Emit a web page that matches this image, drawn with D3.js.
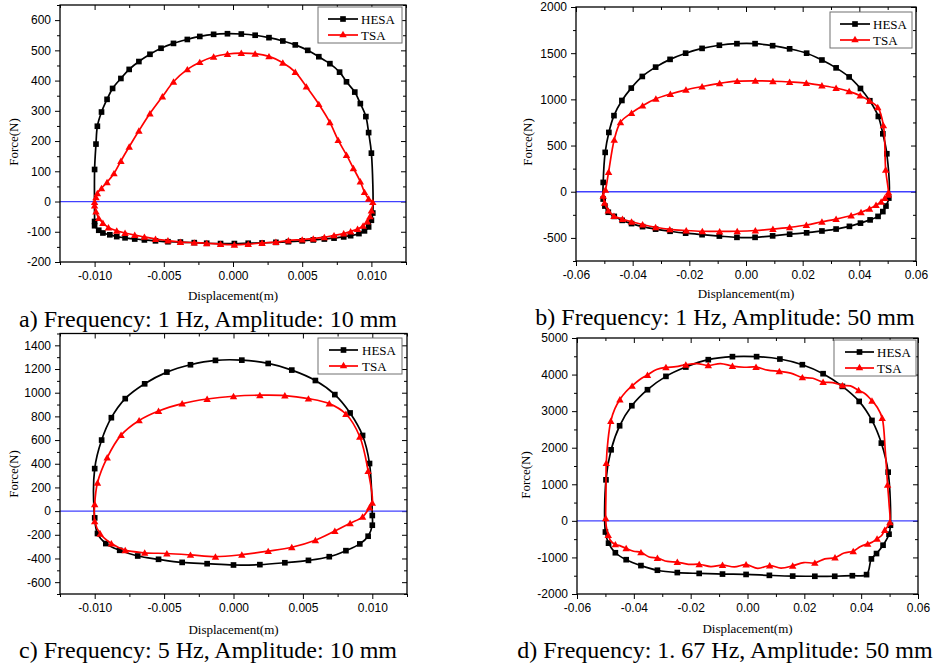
<!DOCTYPE html>
<html>
<head>
<meta charset="utf-8">
<script src="https://cdn.jsdelivr.net/npm/d3@7/dist/d3.min.js"></script>
<style>
  html, body { margin: 0; padding: 0; background: #fff; }
  svg { display: block; }
</style>
</head>
<body>
<div id="chart"></div>
<script>
// ---------- measured hysteresis loops: [displacement (m), force (N)] ----------
// a) 1 Hz, 10 mm
const hesaA = [
  [-0.0100,106],[-0.0099,190],[-0.0098,249],[-0.0095,296],[-0.0091,338],[-0.0087,374],[-0.0081,407],[-0.0075,437],
  [-0.0068,463],[-0.0060,487],[-0.0052,507],[-0.0043,523],[-0.0033,536],[-0.0024,546],[-0.0014,553],[-0.0004,555],
  [0.0006,554],[0.0016,550],[0.0026,542],[0.0036,531],[0.0045,518],[0.0054,500],[0.0062,479],[0.0070,456],
  [0.0077,428],[0.0082,396],[0.0088,362],[0.0092,324],[0.0096,281],[0.0098,228],[0.0100,160],
  [0.0101,-38],[0.0100,-62],[0.0098,-84],[0.0095,-97],[0.0091,-106],[0.0085,-113],[0.0080,-117],[0.0073,-121],
  [0.0066,-124],[0.0058,-127],[0.0050,-130],[0.0040,-133],[0.0031,-135],[0.0021,-137],[0.0011,-138],[0.0001,-139],
  [-0.0009,-139],[-0.0019,-138],[-0.0028,-136],[-0.0038,-134],[-0.0047,-133],[-0.0056,-130],[-0.0064,-127],
  [-0.0071,-124],[-0.0078,-120],[-0.0084,-116],[-0.0089,-110],[-0.0094,-104],[-0.0097,-95],[-0.0100,-80],[-0.0100,-66]
];
const tsaA = [
  [-0.0100,-2],[-0.0099,14],[-0.0098,27],[-0.0095,44],[-0.0091,64],[-0.0086,93],[-0.0081,134],[-0.0075,181],
  [-0.0068,234],[-0.0060,291],[-0.0051,347],[-0.0043,396],[-0.0033,437],[-0.0024,461],[-0.0014,479],[-0.0004,488],
  [0.0006,491],[0.0016,489],[0.0026,480],[0.0036,459],[0.0045,428],[0.0053,380],[0.0062,322],[0.0070,262],
  [0.0076,203],[0.0082,154],[0.0087,110],[0.0092,66],[0.0095,31],[0.0098,9],[0.0101,-2],
  [0.0100,-30],[0.0099,-49],[0.0097,-66],[0.0094,-80],[0.0090,-91],[0.0085,-99],[0.0080,-106],[0.0073,-112],
  [0.0066,-118],[0.0058,-123],[0.0050,-126],[0.0040,-129],[0.0031,-134],[0.0021,-137],[0.0011,-141],[0.0001,-143],
  [-0.0009,-141],[-0.0019,-138],[-0.0028,-136],[-0.0038,-134],[-0.0047,-129],[-0.0056,-124],[-0.0064,-117],
  [-0.0071,-111],[-0.0078,-104],[-0.0084,-97],[-0.0090,-86],[-0.0094,-71],[-0.0097,-55],[-0.0099,-33],[-0.0100,-13]
];

// b) 1 Hz, 50 mm
const hesaB = [
  [-0.0504,101],[-0.0497,426],[-0.0484,642],[-0.0466,824],[-0.0438,988],[-0.0405,1122],[-0.0366,1248],[-0.0319,1349],
  [-0.0268,1433],[-0.0213,1500],[-0.0155,1552],[-0.0094,1586],[-0.0032,1603],[0.0032,1603],[0.0094,1581],[0.0154,1547],
  [0.0214,1500],[0.0268,1426],[0.0318,1341],[0.0364,1243],[0.0404,1118],[0.0437,985],[0.0467,815],[0.0483,627],[0.0497,411],
  [0.0504,-69],[0.0494,-155],[0.0483,-215],[0.0466,-267],[0.0438,-305],[0.0404,-340],[0.0365,-375],[0.0318,-404],
  [0.0268,-425],[0.0214,-445],[0.0154,-460],[0.0094,-478],[0.0032,-494],[-0.0032,-494],[-0.0094,-480],[-0.0155,-465],
  [-0.0213,-449],[-0.0268,-428],[-0.0319,-405],[-0.0365,-378],[-0.0404,-345],[-0.0437,-310],[-0.0465,-267],
  [-0.0486,-222],[-0.0498,-155],[-0.0504,-79]
];
const tsaB = [
  [-0.0504,-43],[-0.0496,22],[-0.0485,213],[-0.0465,563],[-0.0443,752],[-0.0404,853],[-0.0365,932],[-0.0318,1006],
  [-0.0267,1058],[-0.0212,1103],[-0.0155,1139],[-0.0093,1174],[-0.0031,1197],[0.0033,1201],[0.0095,1196],[0.0154,1188],
  [0.0213,1176],[0.0268,1150],[0.0318,1123],[0.0364,1087],[0.0403,1040],[0.0436,985],[0.0465,914],[0.0485,718],
  [0.0493,238],[0.0503,-7],
  [0.0502,-32],[0.0490,-69],[0.0477,-108],[0.0459,-145],[0.0436,-184],[0.0406,-222],[0.0371,-258],[0.0318,-296],
  [0.0268,-325],[0.0213,-360],[0.0154,-385],[0.0095,-404],[0.0033,-420],[-0.0031,-428],[-0.0093,-430],[-0.0154,-428],
  [-0.0211,-420],[-0.0269,-408],[-0.0319,-385],[-0.0365,-355],[-0.0404,-325],[-0.0436,-295],[-0.0466,-262],
  [-0.0486,-205],[-0.0499,-120]
];

// c) 5 Hz, 10 mm
const hesaC = [
  [-0.0100,359],[-0.0095,600],[-0.0088,789],[-0.0078,950],[-0.0064,1075],[-0.0048,1174],[-0.0031,1236],[-0.0013,1273],
  [0.0006,1275],[0.0025,1247],[0.0042,1191],[0.0059,1103],[0.0073,984],[0.0084,829],[0.0093,639],[0.0098,402],
  [0.0100,-37],[0.0100,-119],[0.0097,-212],[0.0091,-277],[0.0081,-334],[0.0069,-385],[0.0054,-416],[0.0037,-436],
  [0.0019,-452],[0.0000,-455],[-0.0019,-444],[-0.0037,-433],[-0.0054,-407],[-0.0069,-379],[-0.0082,-331],
  [-0.0092,-274],[-0.0098,-189],[-0.0100,-57]
];
const tsaC = [
  [-0.0100,57],[-0.0098,240],[-0.0091,452],[-0.0081,642],[-0.0068,766],[-0.0054,846],[-0.0037,908],[-0.0019,947],
  [0.0000,970],[0.0019,979],[0.0037,976],[0.0054,950],[0.0069,908],[0.0081,820],[0.0091,628],[0.0097,339],[0.0100,71],
  [0.0098,30],[0.0093,-48],[0.0084,-103],[0.0073,-168],[0.0059,-246],[0.0042,-305],[0.0025,-338],[0.0006,-368],
  [-0.0013,-385],[-0.0031,-370],[-0.0048,-358],[-0.0064,-352],[-0.0078,-330],[-0.0088,-274],[-0.0096,-192],[-0.0100,-85]
];

// d) 1.67 Hz, 50 mm
const hesaD = [
  [-0.0498,1122],[-0.0480,1943],[-0.0450,2600],[-0.0407,3148],[-0.0352,3586],[-0.0287,3951],[-0.0217,4206],
  [-0.0138,4407],[-0.0053,4490],[0.0032,4490],[0.0114,4425],[0.0193,4270],[0.0266,4024],[0.0334,3677],
  [0.0393,3266],[0.0438,2746],[0.0471,2126],[0.0495,1332],
  [0.0503,-119],[0.0498,-365],[0.0477,-666],[0.0454,-894],[0.0436,-1040],[0.0419,-1470],[0.0369,-1500],
  [0.0307,-1515],[0.0237,-1515],[0.0159,-1510],[0.0077,-1490],[-0.0005,-1465],[-0.0088,-1455],[-0.0170,-1437],
  [-0.0247,-1414],[-0.0317,-1350],[-0.0375,-1223],[-0.0427,-1062],[-0.0465,-872],[-0.0489,-610],[-0.0500,-305]
];
// TSA at 1.67 Hz: measured points alternate with intermediate samples (markers on every second point)
const tsaD = [
  [-0.0499,73],[-0.0498,800],[-0.0497,1578],[-0.0491,2200],[-0.0481,2730],[-0.0467,3060],[-0.0449,3320],
  [-0.0428,3530],[-0.0406,3690],[-0.0380,3860],[-0.0352,3990],[-0.0320,4140],[-0.0287,4197],[-0.0252,4215],
  [-0.0217,4270],[-0.0178,4300],[-0.0138,4252],[-0.0095,4300],[-0.0053,4233],[-0.0012,4200],[0.0030,4206],
  [0.0071,4120],[0.0112,4088],[0.0152,4040],[0.0193,3923],[0.0230,3900],[0.0266,3795],[0.0300,3780],
  [0.0334,3704],[0.0362,3690],[0.0391,3568],[0.0415,3470],[0.0438,3285],[0.0457,3100],[0.0474,2810],
  [0.0485,1900],[0.0493,985],[0.0498,480],[0.0501,-40],[0.0494,-150],[0.0483,-250],[0.0472,-400],
  [0.0456,-490],[0.0440,-580],[0.0423,-630],[0.0398,-700],[0.0372,-830],[0.0340,-880],[0.0308,-1004],
  [0.0272,-1040],[0.0237,-1150],[0.0198,-1140],[0.0159,-1228],[0.0118,-1290],[0.0078,-1223],[0.0036,-1300],
  [-0.0005,-1195],[-0.0046,-1260],[-0.0088,-1208],[-0.0129,-1250],[-0.0170,-1186],[-0.0208,-1190],
  [-0.0247,-1126],[-0.0282,-1110],[-0.0317,-1018],[-0.0346,-990],[-0.0375,-862],[-0.0401,-830],
  [-0.0427,-752],[-0.0446,-690],[-0.0465,-644],[-0.0480,-560],[-0.0490,-388],[-0.0497,-150]
];

// ---------- tick labels ----------
const xTicks10mm = [-0.010, -0.005, 0.000, 0.005, 0.010];
const xTicks50mm = [-0.06, -0.04, -0.02, 0.00, 0.02, 0.04, 0.06];
const yTicksA = [-200, -100, 0, 100, 200, 300, 400, 500, 600];
const yTicksB = [-500, 0, 500, 1000, 1500, 2000];
const yTicksC = [-600, -400, -200, 0, 200, 400, 600, 800, 1000, 1200, 1400];
const yTicksD = [-2000, -1000, 0, 1000, 2000, 3000, 4000, 5000];

const seriesNames = ["HESA", "TSA"];
const captions = [
  "a) Frequency: 1 Hz, Amplitude: 10 mm",
  "b) Frequency: 1 Hz, Amplitude: 50 mm",
  "c) Frequency: 5 Hz, Amplitude: 10 mm",
  "d) Frequency: 1. 67 Hz, Amplitude: 50 mm"
];
const xTitles = ["Displacement(m)", "Displancement(m)", "Displacement(m)", "Displacement(m)"];
const yTitle = "Force(N)";

// ---------- layout ----------
const panels = [
  { box: {l: 60, r: 406, t: 5, b: 262}, xDomain: [-0.0125, 0.0125], yDomain: [-200, 650],
    xMajor: xTicks10mm, yMajor: yTicksA, xFmt: ".3f",
    hesa: hesaA, tsa: tsaA, tsaStep: 1,
    xTitle: xTitles[0], xTitleY: 300, yTitleX: 18, yTitleY: 142,
    caption: captions[0], capX: 208, capY: 327,
    legend: {x: 318, y: 7, w: 84, h: 36, r1: 19, r2: 35, l1: 328, l2: 358, tx: 361} },
  { box: {l: 576, r: 916, t: 7, b: 261}, xDomain: [-0.06, 0.06], yDomain: [-750, 2000],
    xMajor: xTicks50mm, yMajor: yTicksB, xFmt: ".2f",
    hesa: hesaB, tsa: tsaB, tsaStep: 1,
    xTitle: xTitles[1], xTitleY: 298, yTitleX: 532, yTitleY: 142,
    caption: captions[1], capX: 725, capY: 325,
    legend: {x: 830, y: 12, w: 82, h: 36, r1: 24, r2: 40, l1: 840, l2: 870, tx: 873} },
  { box: {l: 60, r: 407, t: 333.5, b: 594}, xDomain: [-0.0125, 0.0125], yDomain: [-700, 1500],
    xMajor: xTicks10mm, yMajor: yTicksC, xFmt: ".3f",
    hesa: hesaC, tsa: tsaC, tsaStep: 1,
    xTitle: xTitles[2], xTitleY: 634, yTitleX: 18, yTitleY: 474,
    caption: captions[2], capX: 208, capY: 658,
    legend: {x: 318, y: 338, w: 84, h: 36, r1: 350, r2: 366, l1: 329, l2: 358, tx: 362} },
  { box: {l: 577, r: 918, t: 338, b: 594}, xDomain: [-0.06, 0.06], yDomain: [-2000, 5000],
    xMajor: xTicks50mm, yMajor: yTicksD, xFmt: ".2f",
    hesa: hesaD, tsa: tsaD, tsaStep: 2,
    xTitle: xTitles[3], xTitleY: 633, yTitleX: 530, yTitleY: 475,
    caption: captions[3], capX: 725, capY: 658,
    legend: {x: 834, y: 340, w: 82, h: 36, r1: 352, r2: 368, l1: 845, l2: 874, tx: 877} }
];

const SANS = "'Liberation Sans', Arial, sans-serif";
const SERIF = "'Liberation Serif', 'Times New Roman', serif";
const HESA_COLOR = "#000000";
const TSA_COLOR = "#ff0000";
const ZERO_COLOR = "#4040ff";

const loc = d3.formatLocale({decimal: ".", thousands: ",", grouping: [3], currency: ["", ""], minus: "-"});

const svg = d3.select("#chart").append("svg")
  .attr("width", 941).attr("height", 667)
  .style("background", "#fff");

function minorTicks(major, domain) {
  const h = (major[1] - major[0]) / 2;
  const out = [];
  const i0 = Math.ceil(domain[0] / h - 1e-9), i1 = Math.floor(domain[1] / h + 1e-9);
  for (let i = i0; i <= i1; i++) {
    const v = i * h;
    if (!major.some(m => Math.abs(m - v) < h * 1e-6)) out.push(v);
  }
  return out;
}

function styleAxis(sel) {
  sel.select(".domain").remove();
  sel.selectAll(".tick line").attr("stroke", "#000").attr("stroke-width", 1);
  sel.selectAll(".tick text").attr("fill", "#000").style("font-family", SANS).style("font-size", "12px");
}

const squareSym = d3.symbol().type(d3.symbolSquare).size(32);
const triSym = d3.symbol().type(d3.symbolTriangle).size(24);

function drawPanel(p) {
  const x = d3.scaleLinear().domain(p.xDomain).range([p.box.l, p.box.r]);
  const y = d3.scaleLinear().domain(p.yDomain).range([p.box.b, p.box.t]);
  const g = svg.append("g");
  const xMinor = minorTicks(p.xMajor, p.xDomain);
  const yMinor = minorTicks(p.yMajor, p.yDomain);

  // bottom / left: outward ticks with labels
  g.append("g").attr("transform", `translate(0,${p.box.b})`)
    .call(d3.axisBottom(x).tickValues(p.xMajor).tickSize(5).tickPadding(4).tickFormat(loc.format(p.xFmt)))
    .call(styleAxis);
  g.append("g").attr("transform", `translate(0,${p.box.b})`)
    .call(d3.axisBottom(x).tickValues(xMinor).tickSize(3).tickFormat(""))
    .call(styleAxis);
  g.append("g").attr("transform", `translate(${p.box.l},0)`)
    .call(d3.axisLeft(y).tickValues(p.yMajor).tickSize(5).tickPadding(4).tickFormat(loc.format("d")))
    .call(styleAxis);
  g.append("g").attr("transform", `translate(${p.box.l},0)`)
    .call(d3.axisLeft(y).tickValues(yMinor).tickSize(3).tickFormat(""))
    .call(styleAxis);
  // top / right: mirrored inward ticks
  g.append("g").attr("transform", `translate(0,${p.box.t})`)
    .call(d3.axisTop(x).tickValues(p.xMajor).tickSize(-5).tickFormat(""))
    .call(styleAxis);
  g.append("g").attr("transform", `translate(0,${p.box.t})`)
    .call(d3.axisTop(x).tickValues(xMinor).tickSize(-3).tickFormat(""))
    .call(styleAxis);
  g.append("g").attr("transform", `translate(${p.box.r},0)`)
    .call(d3.axisRight(y).tickValues(p.yMajor).tickSize(-5).tickFormat(""))
    .call(styleAxis);
  g.append("g").attr("transform", `translate(${p.box.r},0)`)
    .call(d3.axisRight(y).tickValues(yMinor).tickSize(-3).tickFormat(""))
    .call(styleAxis);

  // zero reference line
  g.append("line")
    .attr("x1", x(p.xDomain[0])).attr("x2", x(p.xDomain[1]))
    .attr("y1", y(0)).attr("y2", y(0))
    .attr("stroke", ZERO_COLOR).attr("stroke-width", 1.3);

  const line = d3.line().x(d => x(d[0])).y(d => y(d[1]))
    .curve(d3.curveCatmullRomClosed.alpha(0.5));

  // HESA loop
  g.append("path").datum(p.hesa).attr("d", line)
    .attr("fill", "none").attr("stroke", HESA_COLOR).attr("stroke-width", 1.7);
  g.selectAll(".hesa-pt").data(p.hesa).join("path").attr("class", "hesa-pt")
    .attr("d", squareSym).attr("fill", HESA_COLOR)
    .attr("transform", d => `translate(${x(d[0])},${y(d[1])})`);

  // TSA loop
  g.append("path").datum(p.tsa).attr("d", line)
    .attr("fill", "none").attr("stroke", TSA_COLOR).attr("stroke-width", 1.7);
  g.selectAll(".tsa-pt").data(p.tsa.filter((d, i) => i % p.tsaStep === 0)).join("path").attr("class", "tsa-pt")
    .attr("d", triSym).attr("fill", TSA_COLOR)
    .attr("transform", d => `translate(${x(d[0])},${y(d[1]) + 0.8})`);

  // frame
  g.append("rect")
    .attr("x", p.box.l).attr("y", p.box.t)
    .attr("width", p.box.r - p.box.l).attr("height", p.box.b - p.box.t)
    .attr("fill", "none").attr("stroke", "#000").attr("stroke-width", 1.3);

  // legend
  const L = p.legend;
  const lg = g.append("g");
  lg.append("rect").attr("x", L.x).attr("y", L.y).attr("width", L.w).attr("height", L.h)
    .attr("fill", "#fff").attr("stroke", "#707070").attr("stroke-width", 1);
  const rows = [
    {name: seriesNames[0], yy: L.r1, color: HESA_COLOR, sym: squareSym},
    {name: seriesNames[1], yy: L.r2, color: TSA_COLOR, sym: triSym}
  ];
  rows.forEach(r => {
    lg.append("line").attr("x1", L.l1).attr("x2", L.l2).attr("y1", r.yy).attr("y2", r.yy)
      .attr("stroke", r.color).attr("stroke-width", 1.7);
    lg.append("path").attr("d", r.sym).attr("fill", r.color)
      .attr("transform", `translate(${(L.l1 + L.l2) / 2},${r.yy})`);
    lg.append("text").attr("x", L.tx).attr("y", r.yy).attr("dy", "0.36em")
      .style("font-family", SERIF).style("font-size", "13px").attr("fill", "#000")
      .text(r.name);
  });

  // axis titles
  g.append("text").attr("x", (p.box.l + p.box.r) / 2).attr("y", p.xTitleY)
    .attr("text-anchor", "middle").style("font-family", SERIF).style("font-size", "13px")
    .text(p.xTitle);
  g.append("text").attr("transform", `translate(${p.yTitleX},${p.yTitleY}) rotate(-90)`)
    .attr("text-anchor", "middle").style("font-family", SERIF).style("font-size", "13px")
    .text(yTitle);

  // caption
  g.append("text").attr("x", p.capX).attr("y", p.capY)
    .attr("text-anchor", "middle").style("font-family", SERIF).style("font-size", "24px")
    .text(p.caption);
}

panels.forEach(drawPanel);
</script>
</body>
</html>
